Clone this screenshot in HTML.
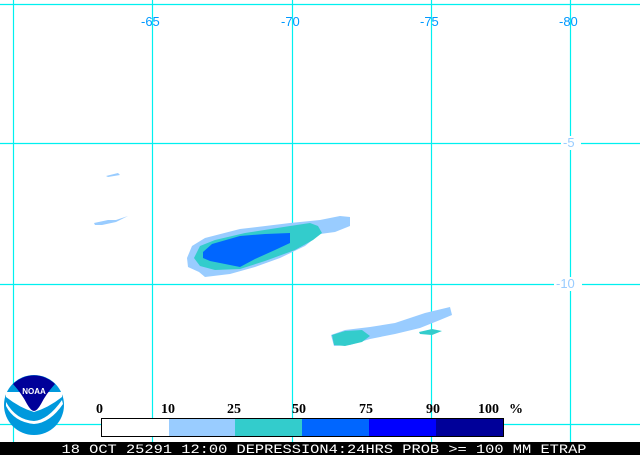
<!DOCTYPE html>
<html><head><style>
body{margin:0;width:640px;height:455px;overflow:hidden;background:#fff}
svg{display:block}
</style></head><body>
<svg width="640" height="455" xmlns="http://www.w3.org/2000/svg">
<rect width="640" height="455" fill="#fff"/>
<g stroke="#00f0f0" stroke-width="1.2">
<line x1="0" y1="4.5" x2="640" y2="4.5"/>
<line x1="0" y1="143.5" x2="640" y2="143.5"/>
<line x1="0" y1="284.5" x2="640" y2="284.5"/>
<line x1="0" y1="424.5" x2="640" y2="424.5"/>
<line x1="13.5" y1="0" x2="13.5" y2="455"/>
<line x1="152.5" y1="0" x2="152.5" y2="455"/>
<line x1="292.5" y1="0" x2="292.5" y2="455"/>
<line x1="431.5" y1="0" x2="431.5" y2="455"/>
<line x1="570.5" y1="0" x2="570.5" y2="455"/>
</g>
<g font-family="Liberation Sans, sans-serif" font-size="13" fill="#0099ff">
<text x="141" y="26">-65</text><text x="281" y="26">-70</text><text x="420" y="26">-75</text><text x="559" y="26">-80</text>
</g>
<rect x="561" y="136" width="20" height="14" fill="#fff"/>
<rect x="554" y="277" width="28" height="14" fill="#fff"/>
<g font-family="Liberation Sans, sans-serif" font-size="13" fill="#99ccff">
<text x="563" y="147">-5</text><text x="556" y="288">-10</text>
</g>
<path d="M106,176 L118,173 L120,175 L108,177 Z" fill="#99ccff"/>
<path d="M94,223 L108,220 L116,220 L128,216 L116,222 L102,225 L95,225 Z" fill="#99ccff"/>
<path d="M187,258 L192,246 L205,238 L240,229 L290,223 L320,220 L340,216 L350,217 L350,226 L335,232 L320,234 L305,246 L280,258 L255,267 L230,274 L205,277 L199,272 L188,267 Z" fill="#99ccff"/>
<path d="M194,258 L200,246 L215,240 L245,233 L290,226 L310,223 L318,226 L322,233 L313,240 L295,250 L265,261 L240,269 L215,270 L200,266 Z" fill="#33cccc"/>
<path d="M203,252 L212,244 L240,236 L265,234 L290,233 L290,243 L275,250 L255,259 L240,267 L225,264 L210,261 L203,258 Z" fill="#0066ff"/>
<path d="M331,335 L345,330 L370,327 L395,323 L425,313 L450,307 L452,315 L440,320 L420,328 L395,334 L370,339 L350,345 L334,346 Z" fill="#99ccff"/>
<path d="M332,335 L345,331 L362,330 L370,336 L362,342 L345,346 L334,345 Z" fill="#33cccc"/>
<path d="M419,332 L432,329 L442,331 L432,335 L420,334 Z" fill="#33cccc"/>
<circle cx="34" cy="405" r="30" fill="#0099dd"/>
<path d="M6,397 Q20,408 34,412 Q48,408 62,397 L62,392 L6,392 Z" fill="#fff"/>
<path d="M13,384 A30,30 0 0 1 55,384 Q46,394 41,404 Q37,411 34,411 Q31,411 27,404 Q22,394 13,384 Z" fill="#000099"/>
<path d="M6,402 Q16,420 34,421 Q48,420 62,400 L63,404 Q50,423 34,424 Q14,422 6,406 Z" fill="#fff"/>
<text x="34" y="394" font-family="Liberation Sans, sans-serif" font-size="8" fill="#fff" text-anchor="middle" font-weight="bold">NOAA</text>
<g font-family="Liberation Serif, serif" font-size="14" font-weight="bold" fill="#000">
<text x="96" y="413">0</text><text x="161" y="413">10</text><text x="227" y="413">25</text><text x="292" y="413">50</text><text x="359" y="413">75</text><text x="426" y="413">90</text><text x="478" y="413">100</text><text x="509" y="413">%</text>
</g>
<rect x="101.5" y="418.5" width="68" height="18" fill="#fff"/>
<rect x="169" y="419" width="66" height="17" fill="#99ccff"/>
<rect x="235" y="419" width="67" height="17" fill="#33cccc"/>
<rect x="302" y="419" width="67" height="17" fill="#0066ff"/>
<rect x="369" y="419" width="67" height="17" fill="#0000ff"/>
<rect x="436" y="419" width="67" height="17" fill="#000099"/>
<rect x="101.5" y="418.5" width="402" height="18" fill="none" stroke="#000" stroke-width="1"/>
<rect x="0" y="442" width="640" height="13" fill="#000"/>
<text x="324" y="453" font-family="Liberation Mono, monospace" font-size="12.5" fill="#fff" text-anchor="middle" textLength="525" lengthAdjust="spacingAndGlyphs">18 OCT 25291 12:00 DEPRESSION4:24HRS PROB &gt;= 100 MM ETRAP</text>
</svg>
</body></html>
